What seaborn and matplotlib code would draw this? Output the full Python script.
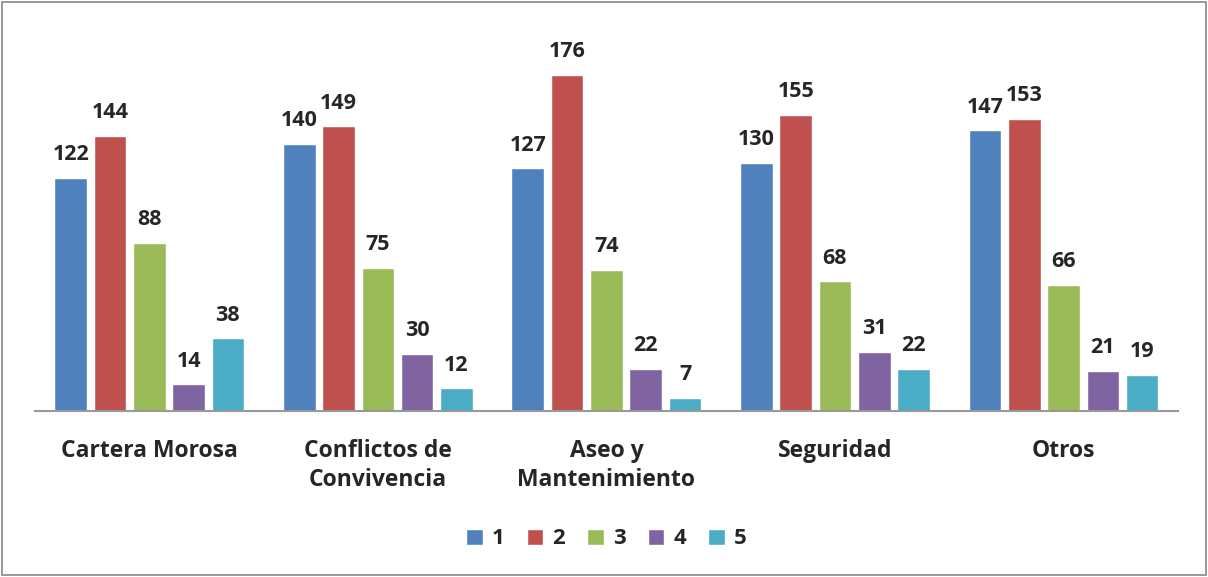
import pandas as pd
import seaborn as sns
import matplotlib.pyplot as plt
from matplotlib.patches import Rectangle

categories = ["Cartera Morosa", "Conflictos de\nConvivencia", "Aseo y\nMantenimiento", "Seguridad", "Otros"]
series_names = ["1", "2", "3", "4", "5"]
values_1 = [122, 140, 127, 130, 147]
values_2 = [144, 149, 176, 155, 153]
values_3 = [88, 75, 74, 68, 66]
values_4 = [14, 30, 22, 31, 21]
values_5 = [38, 12, 7, 22, 19]
colors = ["#4F81BD", "#C0504D", "#9BBB59", "#8064A2", "#4BACC6"]

# long format for seaborn
rows = []
for name, vals in zip(series_names, [values_1, values_2, values_3, values_4, values_5]):
    for cat, v in zip(categories, vals):
        rows.append({"Categoria": cat, "Serie": name, "Valor": v})
df = pd.DataFrame(rows)

sns.set_style("white")
plt.rcParams['font.family'] = ['Open Sans', 'DejaVu Sans']

fig = plt.figure(figsize=(12.08, 5.77), dpi=100)
ax = fig.add_axes([0.029, 0.2877, 0.946, 0.662])

sns.barplot(data=df, x="Categoria", y="Valor", hue="Serie", palette=colors,
            saturation=1, width=0.86, gap=0.17, ax=ax, legend=True)

for c in ax.containers:
    ax.bar_label(c, padding=9, fontsize=15.5, fontweight="bold")

ax.set_ylim(0, 200)
ax.set_xlim(-0.5, 4.5)
ax.set_yticks([])
ax.set_xlabel("")
ax.set_ylabel("")
for s in ["top", "right", "left"]:
    ax.spines[s].set_visible(False)
ax.spines["bottom"].set_color("#999999")
ax.spines["bottom"].set_linewidth(1.5)
ax.tick_params(axis="x", length=0, pad=20)
for lbl in ax.get_xticklabels():
    lbl.set_fontsize(16.5)
    lbl.set_fontweight("bold")
    lbl.set_verticalalignment("top")
    lbl.set_linespacing(1.3)

ax.legend(loc="center", bbox_to_anchor=(0.5, -0.335), ncol=5, frameon=False,
          prop={"size": 16, "weight": "bold"}, handlelength=0.75, handleheight=0.75,
          columnspacing=1.0, handletextpad=0.4)

fig.patches.append(Rectangle((0.002, 0.003), 0.996, 0.994, transform=fig.transFigure,
                             fill=False, edgecolor="#888888", linewidth=1.2))

fig.savefig("out.png", dpi=100)
